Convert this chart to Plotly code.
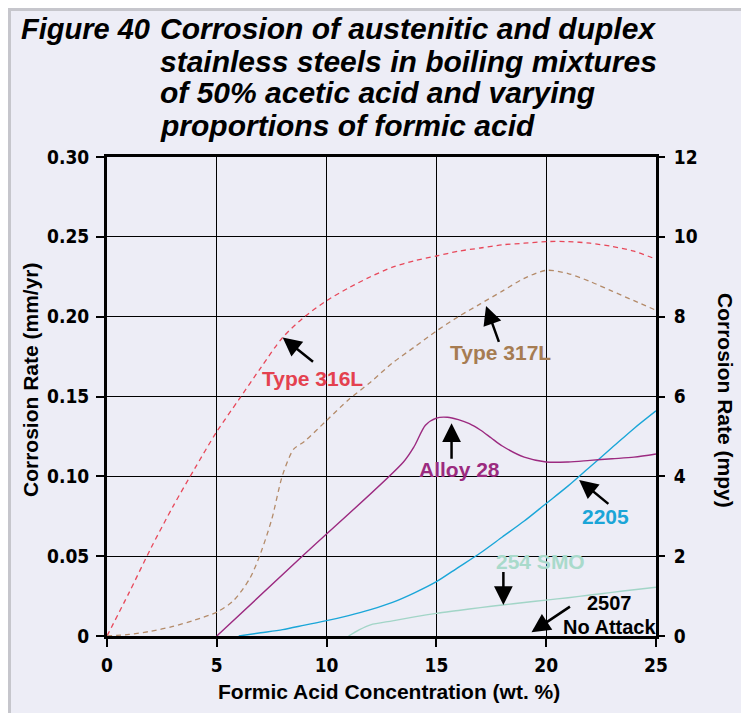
import plotly.graph_objects as go

# Formic acid concentration (wt. %) and corrosion rate (mm/yr)
x_316l = [0, 1, 2, 3, 4, 5, 6, 7, 8, 9, 10, 11, 12, 13, 14, 15, 16, 17, 18, 19, 20, 21, 22, 23, 24, 25]
y_316l = [0, 0.027, 0.055, 0.081, 0.105, 0.128, 0.148, 0.168, 0.187, 0.200, 0.210, 0.218, 0.225, 0.231,
          0.235, 0.238, 0.241, 0.243, 0.245, 0.246, 0.247, 0.247, 0.246, 0.244, 0.241, 0.236]

x_317l = [0, 1, 2, 3, 4, 5, 5.75, 6.5, 7, 7.5, 8, 8.5, 9, 10, 11, 12, 13, 14, 15, 16, 17, 18, 19, 20,
          21, 22, 23, 24, 25]
y_317l = [0, 0.001, 0.003, 0.006, 0.010, 0.015, 0.022, 0.036, 0.052, 0.073, 0.101, 0.117, 0.122, 0.135,
          0.148, 0.159, 0.171, 0.181, 0.191, 0.200, 0.208, 0.216, 0.224, 0.229, 0.227, 0.222, 0.216,
          0.210, 0.204]

x_a28 = [5, 9, 13.5, 14, 14.5, 15, 15.5, 16, 16.5, 17, 17.5, 18, 19, 20, 21, 22, 23, 24, 25]
y_a28 = [0, 0.0513, 0.109, 0.119, 0.132, 0.1365, 0.137, 0.1355, 0.133, 0.129, 0.124, 0.119, 0.112,
         0.109, 0.109, 0.110, 0.111, 0.112, 0.114]

x_2205 = [6, 7, 8, 9, 10, 11, 12, 13, 14, 15, 16, 17, 18, 19, 20, 21, 22, 23, 24, 25]
y_2205 = [0, 0.002, 0.004, 0.0068, 0.0096, 0.0128, 0.0165, 0.021, 0.027, 0.034, 0.043, 0.052, 0.062,
          0.072, 0.083, 0.094, 0.106, 0.118, 0.130, 0.141]

x_254 = [11, 11.5, 12, 13, 14, 15, 16, 17, 18, 19, 20, 21, 22, 23, 24, 25]
y_254 = [0, 0.004, 0.007, 0.0095, 0.012, 0.0142, 0.016, 0.0178, 0.0194, 0.021, 0.0225, 0.024, 0.0257,
         0.0273, 0.029, 0.0305]

x_ticks = [0, 5, 10, 15, 20, 25]
mm_ticks = [0, 0.05, 0.10, 0.15, 0.20, 0.25, 0.30]
mm_labels = ["0", "0.05", "0.10", "0.15", "0.20", "0.25", "0.30"]
mpy_ticks = [0, 2, 4, 6, 8, 10, 12]

title_lines = ["Corrosion of austenitic and duplex",
               "stainless steels in boiling mixtures",
               "of 50% acetic acid and varying",
               "proportions of formic acid"]

BG = "#ededf6"
NARROW = "DejaVu Sans Condensed, sans-serif"
SANS = "Liberation Sans, Arial, Helvetica, sans-serif"

fig = go.Figure()


def curve(x, y, color, dash=None, width=1.4):
    fig.add_trace(go.Scatter(x=x, y=y, mode="lines",
                             line=dict(color=color, width=width, dash=dash, shape="spline", smoothing=0.8),
                             hoverinfo="skip"))


curve(x_316l, y_316l, "#e8485a", dash="5px,4px", width=1.3)
curve(x_317l, y_317l, "#b48b69", dash="5px,4px", width=1.3)
curve(x_254, y_254, "#a2d5c7")
curve(x_2205, y_2205, "#1aa6d8")
curve(x_a28, y_a28, "#9c2a80")

# empty trace so the mpy axis gets drawn
fig.add_trace(go.Scatter(x=[], y=[], xaxis="x", yaxis="y2", showlegend=False))


def label(text, x, y, color, size=21):
    fig.add_annotation(x=x, y=y, text="<b>%s</b>" % text, showarrow=False,
                       font=dict(family=SANS, size=size, color=color))


def arrow(x, y, ax, ay):
    fig.add_annotation(x=x, y=y, ax=ax, ay=ay, axref="x", ayref="y", text="",
                       showarrow=True, arrowhead=2, arrowsize=1.5, arrowwidth=2.5, arrowcolor="black")


label("Type 316L", 9.35, 0.161, "#e4414f")
arrow(8.0, 0.187, 9.45, 0.171)
label("Type 317L", 17.9, 0.1775, "#a67c52")
arrow(17.26, 0.2067, 17.87, 0.1833)
label("Alloy 28", 16.07, 0.1044, "#9b2b7f")
arrow(15.69, 0.1332, 15.69, 0.110)
label("2205", 22.68, 0.0747, "#1ba5d7")
arrow(21.5, 0.0977, 22.9, 0.082)
label("254 SMO", 19.72, 0.0465, "#a9dacb")
arrow(18.05, 0.0194, 18.05, 0.041)
label("2507", 22.9, 0.0205, "black", size=20)
label("No Attack", 22.9, 0.0058, "black", size=20)
arrow(19.33, 0.0023, 21.15, 0.019)

# the page body adds an 8px margin, so paper positions are worked out in window pixels
PL, PR, PT, PB = 107, 656, 157, 636


def px(v):
    return (v - PL) / (PR - PL)


def py(v):
    return (PB - v) / (PB - PT)


fig.add_annotation(xref="paper", yref="paper", x=px(19), y=py(29), xanchor="left", yanchor="middle",
                   text="<b><i>Figure 40</i></b>", showarrow=False,
                   font=dict(family=SANS, size=29, color="black"))
for i, line in enumerate(title_lines):
    fig.add_annotation(xref="paper", yref="paper", x=px(158), y=py(29 + 32 * i), xanchor="left",
                       yanchor="middle", text="<b><i>%s</i></b>" % line, showarrow=False,
                       font=dict(family=SANS, size=30, color="black"))

fig.add_annotation(xref="paper", yref="paper", x=px(30), y=py(380), xanchor="center", yanchor="middle",
                   textangle=-90, text="<b>Corrosion Rate (mm/yr)</b>", showarrow=False,
                   font=dict(family=SANS, size=21, color="black"))
fig.add_annotation(xref="paper", yref="paper", x=px(726), y=py(400), xanchor="center", yanchor="middle",
                   textangle=90, text="<b>Corrosion Rate (mpy)</b>", showarrow=False,
                   font=dict(family=SANS, size=21, color="black"))
fig.add_annotation(xref="paper", yref="paper", x=px(389), y=py(691), xanchor="center", yanchor="middle",
                   text="<b>Formic Acid Concentration (wt. %)</b>", showarrow=False,
                   font=dict(family=SANS, size=21, color="black"))

tickfont = dict(family=NARROW, size=19, color="black", weight="bold")
tickstyle = dict(ticks="outside", ticklen=8, tickwidth=1.6, tickcolor="black", tickfont=tickfont)

fig.update_layout(
    width=741, height=705,
    margin=dict(l=PL - 8, r=749 - PR, t=PT - 8, b=713 - PB),
    paper_bgcolor="white", plot_bgcolor=BG,
    showlegend=False,
    xaxis=dict(range=[0, 25], tickvals=x_ticks, ticklabelstandoff=2, **tickstyle,
               showgrid=True, gridcolor="black", gridwidth=1, zeroline=False,
               showline=True, linecolor="black", linewidth=3, mirror=True),
    yaxis=dict(range=[0, 0.30], tickvals=mm_ticks, ticktext=mm_labels, ticklabelstandoff=3, **tickstyle,
               showgrid=True, gridcolor="black", gridwidth=1, zeroline=False,
               showline=True, linecolor="black", linewidth=3, mirror=True),
    yaxis2=dict(range=[0, 12], tickvals=mpy_ticks, overlaying="y", side="right", ticklabelstandoff=5,
                **tickstyle, showgrid=False, zeroline=False, showline=False),
)

# light grey frame around the figure
fig.add_shape(type="rect", xref="paper", yref="paper", x0=px(9.5), x1=px(743), y0=py(740), y1=py(9.5),
              line=dict(color="#c6c6cc", width=3), fillcolor=BG, layer="below")

fig.write_html("out.html")
